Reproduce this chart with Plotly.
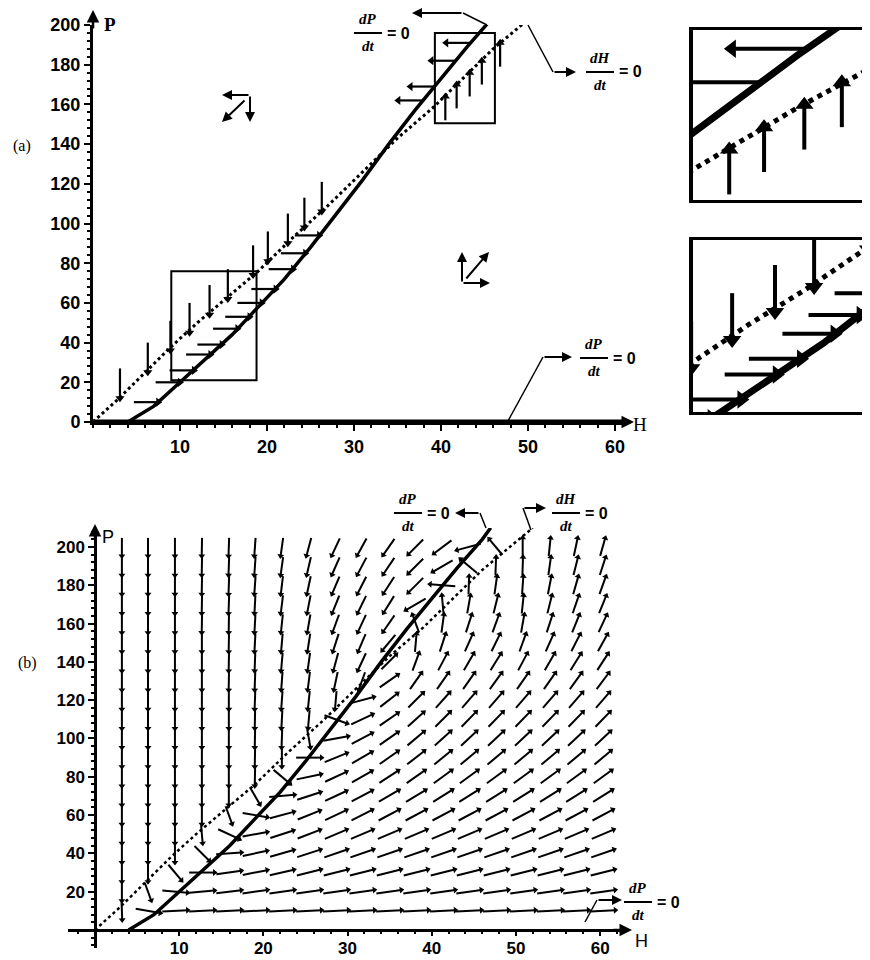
import math
import plotly.graph_objects as go

# the page body has an 8 px margin: the figure is sized and shifted so that
# screenshot pixel (X, Y) maps to figure pixel (X - 8, Y - 8)
OFF = 8
FW, FH = 870 - OFF, 960 - OFF

# ---------------- data ----------------
# dP/dt = 0 nullcline (solid) and dH/dt = 0 nullcline (dotted)
solid_H = [4, 7, 10, 13, 16, 19, 22, 25, 28, 31, 34, 37, 40, 43, 46, 47]
solid_P = [0, 8, 20, 32, 44, 58, 72, 88, 105, 122, 140, 157, 173, 189, 204, 210]
dotted_H = [0, 3, 6, 9, 12, 15, 19, 23, 27, 31, 35, 39, 43, 46, 49, 52]
dotted_P = [0, 12, 25, 38, 50, 61, 76, 93, 109, 126, 143, 158, 175, 188, 199, 210]

# arrows drawn on the nullclines in panel (a)
down_H = [3.1, 6.3, 8.9, 11.1, 13.4, 15.5, 18.4, 20.1, 22.4, 24.3, 26.3]
down_P = [12, 25, 36, 45, 54, 62, 74, 81, 90, 98, 106]
right_H = [7.5, 10.0, 11.6, 13.5, 14.8, 16.6, 18.0, 19.4, 21.0, 23.0, 24.4, 26.0]
right_P = [10, 20, 26, 34, 39, 47, 53, 60, 67, 77, 85, 94]
left_H = [37.9, 39.3, 41.7, 43.4]
left_P = [162, 169, 182, 191]
up_H = [40.5, 41.8, 43.3, 44.7, 46.8]
up_P = [164, 170, 176, 182, 191]

# zoom boxes in panel (a)
box_lo_H = [9.0, 18.8]
box_lo_P = [21, 76]
box_hi_H = [39.3, 46.2]
box_hi_P = [150.5, 196]

# direction field of panel (b): grid and screen angles (deg)
field_H = [3.2, 6.3, 9.5, 12.7, 15.9, 19.0, 22.2, 25.4, 28.6, 31.7, 34.9, 38.1,
           41.3, 44.4, 47.6, 50.8, 54.0, 57.1, 60.3]
field_P = [10, 20, 30, 40, 50, 60, 70, 80, 90, 100, 110, 120, 130, 140, 150,
           160, 170, 180, 190, 200]
field_angle = [
    [-88, -10, 3, 3, 3, 3, 3, 3, 3, 3, 3, 3, 3, 3, 3, 3, 3, 3, 3],
    [-90, -70, -5, 5, 7, 8, 8, 8, 8, 8, 8, 8, 8, 8, 8, 8, 8, 8, 8],
    [-90, -90, -50, 0, 8, 11, 13, 14, 14, 14, 14, 14, 14, 14, 14, 14, 14, 14, 14],
    [-90, -90, -90, -45, 4, 12, 16, 18, 19, 19, 19, 19, 19, 19, 19, 19, 19, 19, 19],
    [-90, -90, -90, -85, -25, 10, 18, 21, 23, 23, 23, 23, 23, 23, 23, 23, 23, 23, 23],
    [-90, -90, -90, -90, -70, -10, 15, 22, 25, 27, 28, 28, 28, 28, 28, 28, 28, 28, 28],
    [-90, -90, -90, -90, -90, -60, 5, 18, 25, 28, 30, 31, 32, 32, 32, 32, 32, 32, 32],
    [-90, -90, -90, -90, -90, -91, -40, 12, 25, 30, 33, 35, 36, 36, 36, 36, 36, 36, 36],
    [-90, -90, -90, -90, -90, -91, -90, 0, 22, 30, 35, 38, 39, 40, 40, 40, 40, 40, 40],
    [-90, -90, -90, -90, -90, -91, -92, -80, 10, 28, 35, 40, 42, 43, 43, 43, 43, 43, 43],
    [-90, -90, -90, -90, -90, -91, -93, -95, -20, 25, 35, 42, 45, 46, 46, 46, 46, 46, 46],
    [-90, -90, -90, -90, -90, -92, -94, -96, -95, 15, 38, 45, 48, 49, 49, 49, 49, 49, 49],
    [-90, -90, -90, -90, -91, -92, -94, -97, -102, -110, 35, 55, 55, 55, 54, 55, 55, 54, 53],
    [-90, -90, -90, -90, -91, -92, -95, -98, -105, -115, 45, 70, 62, 60, 58, 62, 60, 58, 57],
    [-90, -90, -90, -90, -91, -93, -95, -99, -108, -113, -130, 85, 72, 66, 64, 70, 66, 63, 61],
    [-90, -90, -90, -91, -91, -93, -96, -100, -110, -115, -125, 110, 82, 72, 70, 80, 72, 68, 65],
    [-90, -90, -90, -91, -92, -93, -97, -101, -112, -116, -122, -150, 95, 80, 76, 84, 76, 71, 68],
    [-90, -90, -90, -91, -92, -94, -97, -102, -113, -117, -123, -135, 175, 88, 82, 86, 79, 74, 70],
    [-90, -90, -90, -91, -92, -94, -98, -103, -114, -118, -124, -135, -150, 140, 88, 88, 82, 76, 72],
    [-90, -90, -90, -91, -92, -94, -98, -105, -115, -119, -125, -135, -143, -165, 130, 90, 84, 78, 74],
]

tick_x = [10, 20, 30, 40, 50, 60]
tick_y_a = [0, 20, 40, 60, 80, 100, 120, 140, 160, 180, 200]
tick_y_b = [20, 40, 60, 80, 100, 120, 140, 160, 180, 200]


# ---------------- layout geometry (screen pixels -> paper) ----------------
def gx(x):
    return (x - OFF) / FW


def gy(y):
    return 1 - (y - OFF) / FH


def px2paper(x, y):
    return gx(x), gy(y)


dom_x1 = [gx(93), gx(628)]
dom_y1 = [gy(422), gy(25)]
rng_x1 = [0, 61.5]
rng_y1 = [0, 200]

dom_x2 = [gx(68), gx(625)]
dom_y2 = [gy(948), gy(528)]
rng_x2 = [-3.2, 62.95]
rng_y2 = [-9.4, 209.9]

dom_xi = [gx(693), 1.0]
dom_y3 = [gy(200), gy(30)]
rng_x3 = [39.15, 45.75]
rng_y3 = [150.5, 196]
dom_y4 = [gy(412), gy(240)]
rng_x4 = [9.0, 18.5]
rng_y4 = [22, 77]

fig = go.Figure()


def nullcline_arrows(xr, yr, lw, hs):
    Ld, Lr, Lu = 15, 2.8, 12
    xs, ys, hx, hy, hsym = [], [], [], [], []
    for h, p in zip(down_H, down_P):
        xs += [h, h, None]; ys += [p + Ld, p, None]
        hx.append(h); hy.append(p); hsym.append('triangle-down')
    for h, p in zip(right_H, right_P):
        xs += [h - Lr, h, None]; ys += [p, p, None]
        hx.append(h); hy.append(p); hsym.append('triangle-right')
    for h, p in zip(left_H, left_P):
        xs += [h, h - Lr, None]; ys += [p, p, None]
        hx.append(h - Lr); hy.append(p); hsym.append('triangle-left')
    for h, p in zip(up_H, up_P):
        xs += [h, h, None]; ys += [p - Lu, p, None]
        hx.append(h); hy.append(p); hsym.append('triangle-up')
    fig.add_trace(go.Scatter(x=xs, y=ys, mode='lines', xaxis=xr, yaxis=yr,
                             line=dict(color='black', width=lw), hoverinfo='skip'))
    fig.add_trace(go.Scatter(x=hx, y=hy, mode='markers', xaxis=xr, yaxis=yr,
                             marker=dict(symbol=hsym, size=hs, color='black'),
                             hoverinfo='skip'))


def curves(xr, yr, ws, wd):
    fig.add_trace(go.Scatter(x=dotted_H, y=dotted_P, mode='lines', xaxis=xr, yaxis=yr,
                             line=dict(color='black', width=wd, dash='dot'), hoverinfo='skip'))
    fig.add_trace(go.Scatter(x=solid_H, y=solid_P, mode='lines', xaxis=xr, yaxis=yr,
                             line=dict(color='black', width=ws), hoverinfo='skip'))


# ---- panel (a) ----
curves('x', 'y', 3.5, 3)
fig.add_trace(go.Scatter(x=[rng_x1[0], rng_x1[1]], y=[0, 0], mode='lines', xaxis='x', yaxis='y',
                         line=dict(color='black', width=5), hoverinfo='skip'))
nullcline_arrows('x', 'y', 2.2, 8)

# ---- insets ----
for xr, yr in (('x3', 'y3'), ('x4', 'y4')):
    curves(xr, yr, 7, 5)
    nullcline_arrows(xr, yr, 4, 16)

# ---- panel (b) direction field ----
pxH = (dom_x2[1] - dom_x2[0]) * FW / (rng_x2[1] - rng_x2[0])
pxP = (dom_y2[1] - dom_y2[0]) * FH / (rng_y2[1] - rng_y2[0])
cellH = (field_H[-1] - field_H[0]) / (len(field_H) - 1)
cellP = field_P[1] - field_P[0]
a_px = 0.5 * 0.95 * cellH * pxH
b_px = 0.5 * 0.95 * cellP * pxP
fx, fy, ax_, ay_, aang = [], [], [], [], []
for j, p in enumerate(field_P):
    for i, h in enumerate(field_H):
        phi = field_angle[j][i]
        c, s = math.cos(math.radians(phi)), math.sin(math.radians(phi))
        r = 1 / math.sqrt((c / a_px) ** 2 + (s / b_px) ** 2)
        dx, dy = r * c / pxH, r * s / pxP
        fx += [h - dx, h + dx, None]
        fy += [p - dy, p + dy, None]
        ax_.append(h + dx); ay_.append(p + dy); aang.append(90 - phi)
fig.add_trace(go.Scatter(x=fx, y=fy, mode='lines', xaxis='x2', yaxis='y2',
                         line=dict(color='black', width=2), hoverinfo='skip'))
fig.add_trace(go.Scatter(x=ax_, y=ay_, mode='markers', xaxis='x2', yaxis='y2',
                         marker=dict(symbol='triangle-up', size=6, color='black', angle=aang),
                         hoverinfo='skip'))
curves('x2', 'y2', 3.5, 2.5)

# ---------------- axes ----------------
tf = dict(family='Liberation Sans', size=18, color='black', weight='bold')
tf_b = dict(family='Liberation Sans', size=17, color='black', weight='bold')


def main_axis(**kw):
    d = dict(showgrid=False, zeroline=False, showline=True, linecolor='black', linewidth=3,
             ticks='outside', ticklen=6, tickwidth=2, tickcolor='black', tickfont=tf,
             fixedrange=True, automargin=False)
    d.update(kw)
    return d


minor_x = dict(ticks='outside', ticklen=3, tickwidth=1.5, tickcolor='black', dtick=2, tick0=0)
minor_y = dict(ticks='outside', ticklen=3, tickwidth=1.5, tickcolor='black', dtick=4, tick0=0)

inset_x = dict(showgrid=False, zeroline=False, showline=True, linecolor='black', linewidth=3,
               mirror=True, showticklabels=False, ticks='', fixedrange=True, automargin=False)
inset_y = dict(showgrid=False, zeroline=False, showline=True, linecolor='black', linewidth=4,
               mirror=False, showticklabels=False, ticks='', fixedrange=True, automargin=False)

fig.update_layout(
    width=FW, height=FH, margin=dict(l=0, r=0, t=0, b=0, autoexpand=False),
    paper_bgcolor='white', plot_bgcolor='rgba(0,0,0,0)', showlegend=False,
    xaxis=main_axis(domain=dom_x1, range=rng_x1, anchor='y', tickvals=tick_x, minor=minor_x),
    yaxis=main_axis(domain=dom_y1, range=rng_y1, anchor='x', tickvals=tick_y_a, minor=minor_y),
    xaxis2=main_axis(domain=dom_x2, range=rng_x2, anchor='free', position=gy(930),
                     tickvals=tick_x, minor=dict(minor_x, ticklen=2), linewidth=2.5,
                     ticklen=4, tickfont=tf_b, ticklabelstandoff=-2),
    yaxis2=main_axis(domain=dom_y2, range=rng_y2, anchor='free', position=gx(95),
                     tickvals=tick_y_b, minor=minor_y, linewidth=2.5, tickfont=tf_b),
    xaxis3=dict(inset_x, domain=dom_xi, range=rng_x3, anchor='y3'),
    yaxis3=dict(inset_y, domain=dom_y3, range=rng_y3, anchor='x3'),
    xaxis4=dict(inset_x, domain=dom_xi, range=rng_x4, anchor='y4'),
    yaxis4=dict(inset_y, domain=dom_y4, range=rng_y4, anchor='x4'),
)

# zoom boxes
for bh, bp in ((box_lo_H, box_lo_P), (box_hi_H, box_hi_P)):
    fig.add_shape(type='rect', xref='x', yref='y', x0=bh[0], x1=bh[1], y0=bp[0], y1=bp[1],
                  line=dict(color='black', width=2))


# ---------------- decorations ----------------
def arrow(x0, y0, x1, y1, width=2, size=1.0):
    hx, hy = px2paper(x1, y1)
    fig.add_annotation(x=hx, y=hy, xref='paper', yref='paper', ax=x0 - x1, ay=y0 - y1,
                       axref='pixel', ayref='pixel', showarrow=True, arrowhead=2,
                       arrowsize=size, arrowwidth=width, arrowcolor='black', text='',
                       standoff=0)


def polyline(pts, width=1.5):
    path = 'M ' + ' L '.join('%.5f,%.5f' % px2paper(x, y) for x, y in pts)
    fig.add_shape(type='path', xref='paper', yref='paper', path=path,
                  line=dict(color='black', width=width))


def text(x, y, s, size=16, family='Liberation Serif', xanchor='center', bold=False):
    px_, py_ = px2paper(x, y)
    fig.add_annotation(x=px_, y=py_, xref='paper', yref='paper', text=s, showarrow=False,
                       xanchor=xanchor, yanchor='middle',
                       font=dict(family=family, size=size, color='black',
                                 weight='bold' if bold else 'normal'))


def frac(cx, cy, num):
    text(cx, cy - 14, '<i>' + num + '</i>', size=15, bold=True)
    text(cx, cy + 13, '<i>dt</i>', size=15, bold=True)
    polyline([(cx - 14, cy), (cx + 14, cy)], width=2)
    text(cx + 17, cy, '= 0', size=16, family='Liberation Sans', xanchor='left', bold=True)


# axis arrows
arrow(93, 30, 93, 10, width=2.5)
arrow(612, 422, 634, 422, width=2.5)
arrow(95, 540, 95, 524, width=2.5)
arrow(612, 930, 632, 930, width=2.5)

# axis names and panel tags
text(110, 24, 'P', size=19, bold=True)
text(640, 424, 'H', size=19)
text(108, 537, 'P', size=18, family='Liberation Sans')
text(641, 941, 'H', size=18, family='Liberation Sans')
text(22, 146, '(a)', size=16)
text(27, 663, '(b)', size=16)

# nullcline labels, panel (a)
frac(368, 33, 'dP')
polyline([(487, 25), (463, 13)])
arrow(463, 13, 412, 13, width=2)
frac(600, 72, 'dH')
polyline([(528, 25), (553, 72)])
arrow(553, 72, 576, 72, width=2)
frac(594, 358, 'dP')
polyline([(508, 421), (543, 357)])
arrow(543, 357, 572, 357, width=2)

# nullcline labels, panel (b)
frac(408, 513, 'dP')
polyline([(486, 528), (480, 513)])
arrow(480, 513, 455, 513, width=2)
frac(566, 513, 'dH')
polyline([(531, 530), (523, 508)])
arrow(523, 508, 546, 508, width=2)
frac(638, 902, 'dP')
polyline([(585, 922), (597, 900)])
arrow(597, 900, 622, 900, width=2)

# direction glyphs in panel (a)
arrow(250, 95, 222, 95)
arrow(250, 95, 250, 122)
arrow(246, 99, 222, 122)
arrow(462, 283, 462, 252)
arrow(462, 283, 490, 283)
arrow(465, 280, 489, 252)

fig.write_html("out.html")
